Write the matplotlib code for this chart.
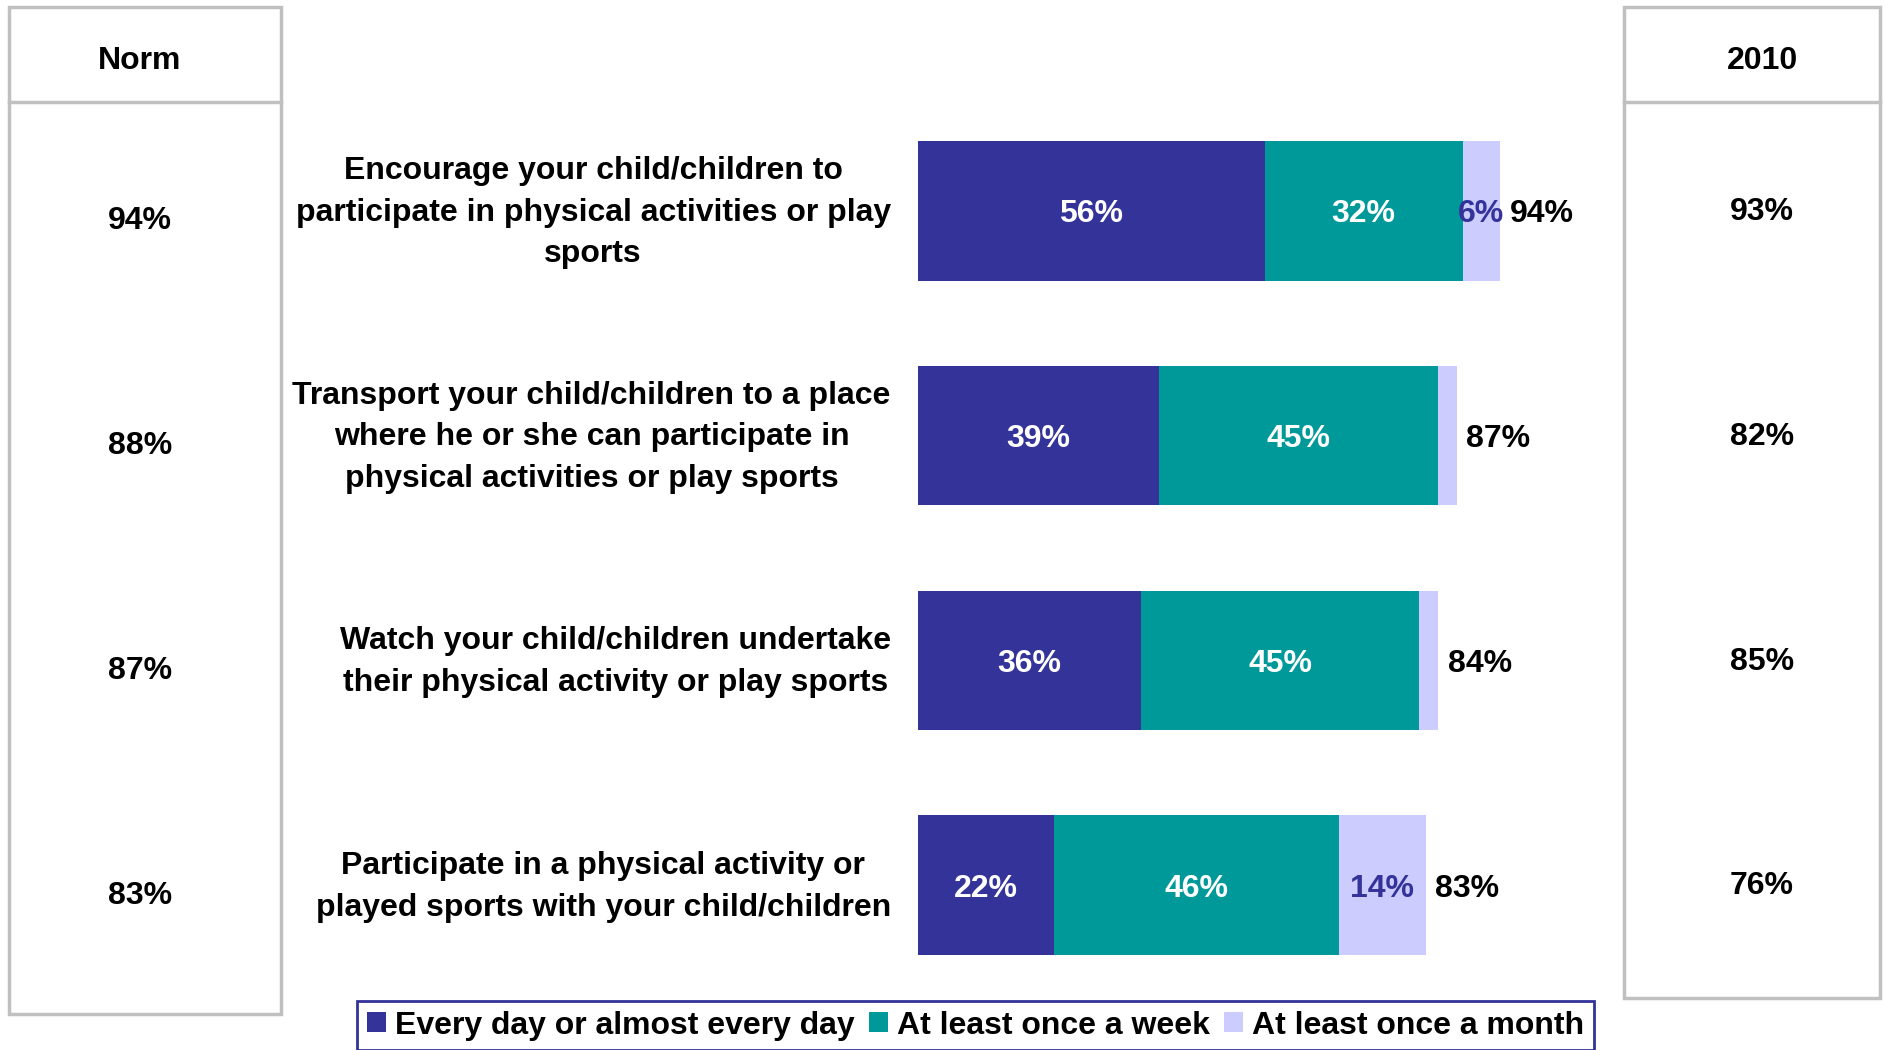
import numpy as np
import matplotlib.pyplot as plt
from matplotlib.patches import Rectangle
from matplotlib.lines import Line2D
from matplotlib.transforms import blended_transform_factory

activities = [
    "Encourage your child/children to\nparticipate in physical activities or play\nsports",
    "Transport your child/children to a place\nwhere he or she can participate in\nphysical activities or play sports",
    "Watch your child/children undertake\ntheir physical activity or play sports",
    "Participate in a physical activity or\nplayed sports with your child/children",
]
daily = [56, 39, 36, 22]
weekly = [32, 45, 45, 46]
monthly = [6, 3, 3, 14]
totals = [94, 87, 84, 83]
norm = [94, 88, 87, 83]
year_2010 = [93, 82, 85, 76]
series_names = ["Every day or almost every day", "At least once a week",
                "At least once a month"]
colors = ["#333399", "#009999", "#CCCCFF"]
label_colors = ["white", "white", "#333399"]

plt.rcParams['font.family'] = ['Liberation Sans', 'DejaVu Sans']
plt.rcParams['font.weight'] = 'bold'
FS = 23
dy = 0.016  # nudge text down a little inside each row

W, H = 1885, 1050
fig = plt.figure(figsize=(W / 100, H / 100), dpi=100)

ax = fig.add_axes([918 / W, 1 - 997.5 / H, 619 / W, 899 / H])
y = np.arange(len(activities))
left = np.zeros(len(activities))
for vals, c, lc, name in zip([daily, weekly, monthly], colors, label_colors, series_names):
    ax.barh(y, vals, left=left, height=0.62, color=c, label=name)
    for i, v in enumerate(vals):
        if v >= 5:
            ax.text(left[i] + v / 2, i + dy, f"{v}%", ha='center', va='center',
                    color=lc, fontsize=FS, fontweight='bold')
    left += np.array(vals)

for i, tot in enumerate(totals):
    ax.text(left[i] + 1.6, i + dy, f"{tot}%", va='center', ha='left',
            fontsize=FS, fontweight='bold')
    ax.text(-4.4, i + dy * 0.5, activities[i], va='center', ha='right',
            multialignment='center', fontsize=FS, fontweight='bold',
            linespacing=1.5)

ax.set_xlim(0, 100)
ax.set_ylim(3.5, -0.5)
ax.axis('off')

# side columns: Norm on the left, 2010 on the right
grey = '#C0C0C0'
fig.add_artist(Rectangle((9 / W, 1 - 1014 / H), 272 / W, 1007 / H, fill=False,
                         edgecolor=grey, lw=2.5, transform=fig.transFigure))
fig.add_artist(Rectangle((1624 / W, 1 - 998 / H), 256 / W, 991 / H, fill=False,
                         edgecolor=grey, lw=2.5, transform=fig.transFigure))
fig.add_artist(Line2D([9 / W, 281 / W], [1 - 102 / H] * 2, color=grey, lw=2.5,
                      transform=fig.transFigure))
fig.add_artist(Line2D([1624 / W, 1880 / W], [1 - 102 / H] * 2, color=grey, lw=2.5,
                      transform=fig.transFigure))
fig.text(140 / W, 1 - 61 / H, "Norm", ha='center', va='center', fontsize=FS,
         fontweight='bold')
fig.text(1762 / W, 1 - 61 / H, "2010", ha='center', va='center', fontsize=FS,
         fontweight='bold')

tr = blended_transform_factory(fig.transFigure, ax.transData)
for i in range(len(activities)):
    ax.text(140 / W, i + 0.035 + dy * 0.7, f"{norm[i]}%", transform=tr, ha='center',
            va='center', fontsize=FS, fontweight='bold')
    ax.text(1762 / W, i - 0.01 + dy, f"{year_2010[i]}%", transform=tr, ha='center',
            va='center', fontsize=FS, fontweight='bold')

leg = fig.legend(loc='upper left', bbox_to_anchor=(357 / W, 1 - 1001 / H),
                 bbox_transform=fig.transFigure, ncol=3, fontsize=FS,
                 frameon=True, fancybox=False, framealpha=1, borderaxespad=0,
                 borderpad=0.3, handlelength=0.6, handleheight=0.6,
                 handletextpad=0.28, columnspacing=0.45)
leg.get_frame().set_edgecolor('#333399')
leg.get_frame().set_linewidth(2)

fig.savefig("out.png", dpi=100)
